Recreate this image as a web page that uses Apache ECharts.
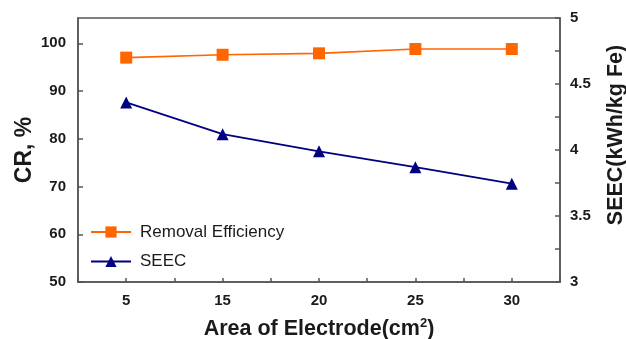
<!DOCTYPE html>
<html>
<head>
<meta charset="utf-8">
<script src="https://cdn.jsdelivr.net/npm/echarts@6/dist/echarts.min.js"></script>
<style>
  html, body { margin: 0; padding: 0; background: #fff; }
  #chart { width: 626px; height: 339px; }
</style>
</head>
<body>
<div id="chart"></div>
<script>
// Electrode area (cm²) on the category axis
const areas = ['5', '15', '20', '25', '30'];
// Removal efficiency CR (%) — left axis
const removalEfficiency = [97.0, 97.6, 97.9, 98.8, 98.8];
// Specific electrical energy consumption (kWh/kg Fe) — right axis
const seec = [4.36, 4.12, 3.99, 3.87, 3.745];
// Tick values for the two value axes
const crTicks = [50, 60, 70, 80, 90, 100];
const seecTicks = [3, 3.5, 4, 4.5, 5];

const FONT = '"Liberation Sans", Arial, sans-serif';
const AXIS_COLOR = '#555';
const TEXT_COLOR = '#1a1a1a';
const ORANGE = '#FF6600';
const NAVY = '#000080';

const chart = echarts.init(document.getElementById('chart'), null, { renderer: 'canvas' });

const axisLabelStyle = {
  color: TEXT_COLOR, fontFamily: FONT, fontWeight: 'bold', fontSize: 15
};
const axisNameStyle = {
  color: TEXT_COLOR, fontFamily: FONT, fontWeight: 'bold', fontSize: 21
};

chart.setOption({
  animation: false,
  backgroundColor: '#fff',
  grid: {
    left: 78, right: 66, top: 18, bottom: 57,
    containLabel: false,
    outerBoundsMode: 'none',
    show: true, borderColor: AXIS_COLOR, borderWidth: 1.5, backgroundColor: 'transparent'
  },
  legend: [
    {
      data: ['Removal Efficiency'],
      left: 90, top: 223, padding: 0,
      itemWidth: 40, itemHeight: 14,
      textStyle: { fontFamily: FONT, fontSize: 17, color: TEXT_COLOR, lineHeight: 18, padding: [0, 0, 0, 4] }
    },
    {
      data: ['SEEC'],
      left: 90, top: 252.5, padding: 0,
      itemWidth: 40, itemHeight: 14,
      textStyle: { fontFamily: FONT, fontSize: 17, color: TEXT_COLOR, lineHeight: 18, padding: [0, 0, 0, 4] }
    }
  ],
  xAxis: [
    {
      type: 'category',
      data: areas,
      boundaryGap: true,
      name: '{t|Area of Electrode(cm}{sup|2}{t|)}',
      nameLocation: 'middle',
      nameGap: 35,
      nameTextStyle: {
        rich: {
          t: Object.assign({}, axisNameStyle, { fontSize: 21.5, lineHeight: 24 }),
          sup: { fontFamily: FONT, fontWeight: 'bold', fontSize: 13, color: TEXT_COLOR, verticalAlign: 'top', lineHeight: 24 }
        }
      },
      axisLine: { show: true, lineStyle: { color: AXIS_COLOR, width: 1.5 } },
      axisTick: { show: true, inside: true, length: 4, interval: 0, lineStyle: { color: AXIS_COLOR, width: 1.5 } },
      axisLabel: Object.assign({ margin: 11, interval: 0 }, axisLabelStyle),
      splitLine: { show: false }
    },
    {
      // Second category axis: adds the ticks centred under each category
      type: 'category',
      data: areas,
      position: 'bottom',
      gridIndex: 0,
      axisLine: { show: false },
      axisTick: { show: true, inside: true, length: 4, alignWithLabel: true, interval: 0, lineStyle: { color: AXIS_COLOR, width: 1.5 } },
      axisLabel: { show: false },
      splitLine: { show: false }
    }
  ],
  yAxis: [
    {
      type: 'value',
      min: crTicks[0],
      max: 105.3,
      interval: 10,
      position: 'left',
      name: 'CR, %',
      nameLocation: 'middle',
      nameGap: 42,
      nameMoveOverlap: false,
      nameRotate: 90,
      nameTextStyle: Object.assign({}, axisNameStyle, { fontSize: 23 }),
      axisLine: { show: true, lineStyle: { color: AXIS_COLOR, width: 1.5 } },
      axisTick: { show: true, inside: true, length: 5, lineStyle: { color: AXIS_COLOR, width: 1.5 } },
      axisLabel: Object.assign({
        margin: 12, showMaxLabel: false,
        formatter: v => (crTicks.indexOf(v) >= 0 ? String(v) : '')
      }, axisLabelStyle),
      splitLine: { show: false }
    },
    {
      type: 'value',
      min: seecTicks[0],
      max: seecTicks[seecTicks.length - 1],
      interval: 0.5,
      position: 'right',
      name: 'SEEC(kWh/kg Fe)',
      nameLocation: 'middle',
      nameGap: 45,
      nameRotate: 90,
      nameTextStyle: Object.assign({}, axisNameStyle, { fontSize: 21.5, padding: [0, 0, 0, 30] }),
      axisLine: { show: true, lineStyle: { color: AXIS_COLOR, width: 1.5 } },
      axisTick: { show: true, inside: true, length: 5, lineStyle: { color: AXIS_COLOR, width: 1.5 } },
      minorTick: { show: true, splitNumber: 2, length: 5, lineStyle: { color: AXIS_COLOR, width: 1.5 } },
      axisLabel: Object.assign({ margin: 10 }, axisLabelStyle),
      splitLine: { show: false },
      minorSplitLine: { show: false }
    }
  ],
  series: [
    {
      name: 'Removal Efficiency',
      type: 'line',
      xAxisIndex: 0,
      yAxisIndex: 0,
      data: removalEfficiency,
      symbol: 'rect',
      symbolSize: 12,
      itemStyle: { color: ORANGE },
      lineStyle: { color: ORANGE, width: 1.6 }
    },
    {
      name: 'SEEC',
      type: 'line',
      xAxisIndex: 0,
      yAxisIndex: 1,
      data: seec,
      symbol: 'triangle',
      symbolSize: 12,
      itemStyle: { color: NAVY },
      lineStyle: { color: NAVY, width: 1.8 }
    }
  ]
});
</script>
</body>
</html>
